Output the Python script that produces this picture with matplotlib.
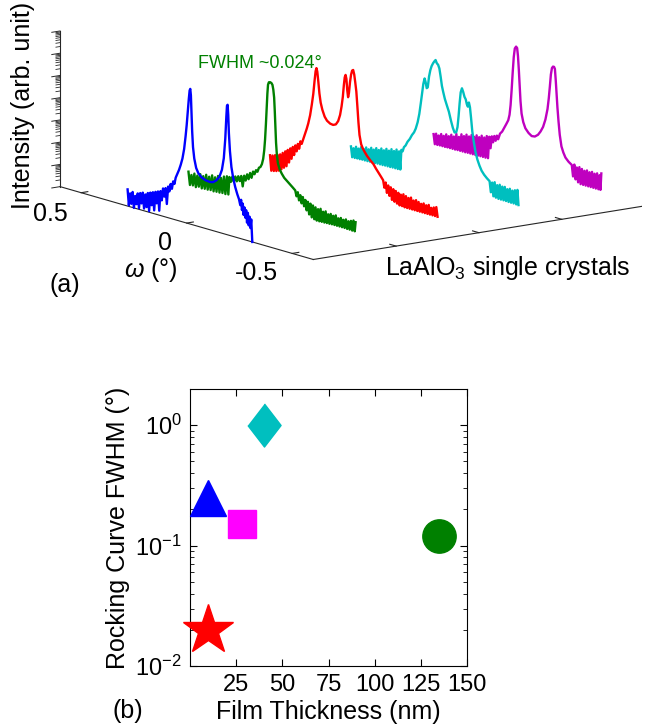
import numpy as np
import matplotlib
matplotlib.use("Agg")
import matplotlib.pyplot as plt
from mpl_toolkits.mplot3d import proj3d

plt.rcParams['font.family'] = ['Liberation Sans', 'DejaVu Sans']
plt.rcParams['mathtext.fontset'] = 'custom'
plt.rcParams['mathtext.rm'] = 'Liberation Sans'
plt.rcParams['mathtext.it'] = 'Liberation Sans:italic'

# (a) rocking curves: (omega in deg, log10 intensity), one list per crystal
blue = [(0.280, 0.75), (0.274, 0.05), (0.268, 0.6), (0.262, 0.15), (0.256, 0.7), (0.250, 0.0),
        (0.244, 0.55), (0.238, 0.2), (0.232, 0.7), (0.226, 0.05), (0.220, 0.75), (0.214, 0.3),
        (0.208, 0.8), (0.202, 0.1), (0.196, 0.75), (0.190, 0.2), (0.184, 0.85), (0.178, 0.05),
        (0.172, 0.9), (0.166, 0.35), (0.160, 0.95), (0.154, 0.15), (0.148, 1.0), (0.142, 0.5),
        (0.136, 1.05), (0.130, 0.2), (0.124, 1.1), (0.118, 0.7), (0.112, 1.25), (0.106, 0.9),
        (0.100, 1.3), (0.094, 0.6), (0.088, 1.4), (0.082, 1.2), (0.076, 1.55), (0.070, 1.35),
        (0.064, 1.7), (0.058, 1.6), (0.052, 1.9), (0.044, 2.1), (0.036, 2.3), (0.028, 2.55),
        (0.020, 2.85), (0.012, 3.3), (0.005, 3.9), (0.0, 4.4), (-0.005, 5.0), (-0.010, 5.6),
        (-0.014, 6.0), (-0.017, 6.08), (-0.020, 5.8), (-0.023, 5.0), (-0.026, 4.2), (-0.030, 3.5),
        (-0.036, 3.0), (-0.045, 2.6), (-0.055, 2.4), (-0.07, 2.25), (-0.09, 2.17), (-0.11, 2.15),
        (-0.125, 2.18), (-0.14, 2.3), (-0.155, 2.5), (-0.167, 2.85), (-0.176, 3.4), (-0.183, 4.3),
        (-0.188, 5.3), (-0.191, 5.8), (-0.194, 5.85), (-0.197, 5.4), (-0.200, 4.6), (-0.205, 3.8),
        (-0.212, 3.1), (-0.22, 2.65), (-0.23, 2.25), (-0.24, 1.95), (-0.248, 1.75), (-0.254, 1.5),
        (-0.258, 1.75), (-0.262, 1.3), (-0.266, 1.6), (-0.270, 1.1), (-0.274, 1.45), (-0.278, 1.0),
        (-0.282, 1.35), (-0.286, 0.8), (-0.290, 1.25), (-0.294, 0.7), (-0.298, 1.1), (-0.302, 0.6),
        (-0.306, 1.0), (-0.309, 0.4), (-0.311, 0.0)]

green = [(0.384, 0.66), (0.377, 0.08), (0.370, 0.55), (0.363, 0.1), (0.356, 0.65), (0.349, 0.06),
         (0.342, 0.6), (0.335, 0.12), (0.328, 0.7), (0.321, 0.08), (0.314, 0.65), (0.307, 0.1),
         (0.300, 0.75), (0.293, 0.1), (0.286, 0.7), (0.279, 0.12), (0.272, 0.8), (0.265, 0.1),
         (0.258, 0.75), (0.251, 0.12), (0.244, 0.85), (0.237, 0.12), (0.230, 0.8), (0.223, 0.14),
         (0.216, 0.9), (0.209, 0.13), (0.202, 0.95), (0.195, 0.15), (0.190, 0.95), (0.183, 0.75),
         (0.176, 1.0), (0.169, 0.8), (0.162, 1.05), (0.155, 0.85), (0.148, 1.1), (0.141, 0.9),
         (0.134, 1.15), (0.127, 0.7), (0.120, 1.2), (0.113, 1.0), (0.106, 1.3), (0.099, 1.1),
         (0.092, 1.4), (0.085, 1.2), (0.078, 1.5), (0.071, 1.4), (0.064, 1.6), (0.057, 1.55),
         (0.050, 1.75), (0.043, 1.8), (0.036, 1.95), (0.030, 2.2), (0.025, 2.6), (0.021, 3.1),
         (0.017, 3.8), (0.013, 4.6), (0.010, 5.2), (0.007, 5.6), (0.003, 5.72), (-0.003, 5.74),
         (-0.009, 5.72), (-0.014, 5.65), (-0.018, 5.45), (-0.022, 5.1), (-0.025, 4.5), (-0.028, 3.8),
         (-0.031, 3.1), (-0.035, 2.55), (-0.04, 2.2), (-0.048, 1.95), (-0.058, 1.78), (-0.07, 1.62),
         (-0.085, 1.5), (-0.1, 1.38), (-0.11, 1.3), (-0.122, 1.2), (-0.128, 0.95), (-0.134, 1.15),
         (-0.140, 0.8), (-0.146, 1.05), (-0.152, 0.7), (-0.158, 1.0), (-0.164, 0.6), (-0.170, 0.9),
         (-0.176, 0.45), (-0.182, 0.85), (-0.188, 0.3), (-0.194, 0.8), (-0.200, 0.2), (-0.206, 0.75),
         (-0.212, 0.15), (-0.218, 0.7), (-0.224, 0.12), (-0.230, 0.65), (-0.236, 0.12), (-0.242, 0.7),
         (-0.248, 0.13), (-0.254, 0.6), (-0.260, 0.13), (-0.266, 0.65), (-0.272, 0.14), (-0.278, 0.55),
         (-0.284, 0.14), (-0.290, 0.6), (-0.296, 0.15), (-0.302, 0.55), (-0.308, 0.15), (-0.314, 0.6),
         (-0.320, 0.15), (-0.326, 0.5), (-0.332, 0.15), (-0.338, 0.55), (-0.344, 0.15), (-0.350, 0.5),
         (-0.356, 0.15), (-0.362, 0.55), (-0.368, 0.14), (-0.374, 0.5), (-0.380, 0.14), (-0.386, 0.55),
         (-0.392, 0.13), (-0.398, 0.6), (-0.404, 0.13), (-0.408, 0.55)]

red = [(0.390, 0.78), (0.384, 0.1), (0.378, 0.8), (0.372, 0.12), (0.366, 0.85), (0.360, 0.15),
       (0.354, 0.9), (0.348, 0.2), (0.342, 0.95), (0.336, 0.3), (0.330, 1.05), (0.324, 0.4),
       (0.318, 1.15), (0.312, 0.5), (0.306, 1.25), (0.300, 0.7), (0.294, 1.35), (0.288, 0.9),
       (0.282, 1.45), (0.276, 1.1), (0.270, 1.55), (0.264, 1.3), (0.258, 1.65), (0.252, 1.45),
       (0.246, 1.8), (0.240, 1.7), (0.232, 1.95), (0.224, 2.2), (0.216, 2.45), (0.209, 2.7),
       (0.200, 3.1), (0.192, 3.6), (0.185, 4.1), (0.179, 4.7), (0.174, 5.15), (0.170, 5.3),
       (0.166, 5.15), (0.161, 4.7), (0.156, 4.2), (0.150, 3.8), (0.142, 3.5), (0.131, 3.22),
       (0.12, 3.07), (0.105, 2.98), (0.091, 2.96), (0.078, 3.02), (0.067, 3.2), (0.058, 3.5),
       (0.051, 3.9), (0.045, 4.35), (0.04, 4.9), (0.036, 5.25), (0.032, 5.37), (0.028, 5.2),
       (0.024, 4.7), (0.020, 4.4), (0.016, 4.6), (0.011, 5.1), (0.006, 5.45), (0.001, 5.65),
       (-0.004, 5.69), (-0.009, 5.5), (-0.014, 5.15), (-0.019, 4.76), (-0.024, 4.1), (-0.029, 3.4),
       (-0.034, 2.85), (-0.042, 2.45), (-0.05, 2.28), (-0.058, 2.16), (-0.07, 2.0), (-0.085, 1.85),
       (-0.1, 1.72), (-0.112, 1.55), (-0.124, 1.4), (-0.136, 1.25), (-0.146, 1.12), (-0.152, 0.8),
       (-0.158, 1.05), (-0.164, 0.6), (-0.170, 0.95), (-0.176, 0.5), (-0.182, 0.9), (-0.188, 0.35),
       (-0.194, 0.85), (-0.200, 0.3), (-0.206, 0.8), (-0.212, 0.25), (-0.218, 0.75), (-0.224, 0.2),
       (-0.230, 0.7), (-0.236, 0.2), (-0.242, 0.75), (-0.248, 0.18), (-0.254, 0.7), (-0.260, 0.18),
       (-0.266, 0.65), (-0.272, 0.18), (-0.278, 0.7), (-0.284, 0.18), (-0.290, 0.6), (-0.296, 0.18),
       (-0.302, 0.65), (-0.308, 0.18), (-0.314, 0.6), (-0.320, 0.18), (-0.326, 0.55), (-0.332, 0.18),
       (-0.338, 0.6), (-0.344, 0.18), (-0.350, 0.55), (-0.356, 0.18), (-0.362, 0.6), (-0.368, 0.18),
       (-0.374, 0.5), (-0.380, 0.18), (-0.386, 0.55), (-0.392, 0.18), (-0.398, 0.6), (-0.404, 0.18)]

cyan = [(0.399, 0.55), (0.393, 0.08), (0.387, 0.5), (0.381, 0.08), (0.375, 0.6), (0.369, 0.09),
        (0.363, 0.55), (0.357, 0.09), (0.351, 0.65), (0.345, 0.1), (0.339, 0.6), (0.333, 0.1),
        (0.327, 0.7), (0.321, 0.1), (0.315, 0.65), (0.309, 0.11), (0.303, 0.75), (0.297, 0.11),
        (0.291, 0.7), (0.285, 0.11), (0.279, 0.8), (0.273, 0.12), (0.267, 0.75), (0.261, 0.12),
        (0.255, 0.85), (0.249, 0.12), (0.243, 0.8), (0.237, 0.13), (0.231, 0.9), (0.225, 0.13),
        (0.219, 0.85), (0.213, 0.13), (0.207, 0.95), (0.201, 0.14), (0.195, 0.9), (0.189, 0.14),
        (0.183, 1.0), (0.177, 0.14), (0.171, 0.95), (0.165, 0.15), (0.160, 1.05), (0.154, 1.0),
        (0.148, 1.2), (0.140, 1.3), (0.131, 1.49), (0.12, 1.65), (0.11, 1.85), (0.1, 2.0),
        (0.092, 2.19), (0.083, 2.5), (0.075, 2.9), (0.068, 3.4), (0.062, 3.85), (0.056, 4.3),
        (0.05, 4.56), (0.045, 4.4), (0.04, 4.15), (0.035, 4.2), (0.029, 4.7), (0.023, 5.0),
        (0.017, 5.2), (0.01, 5.35), (0.004, 5.45), (-0.002, 5.53), (-0.008, 5.4), (-0.014, 5.35),
        (-0.02, 5.2), (-0.026, 4.85), (-0.032, 4.45), (-0.038, 4.2), (-0.046, 3.9), (-0.055, 3.65),
        (-0.065, 3.38), (-0.075, 3.0), (-0.084, 2.7), (-0.092, 2.52), (-0.1, 2.55), (-0.106, 2.8),
        (-0.111, 3.3), (-0.116, 3.9), (-0.121, 4.4), (-0.127, 4.6), (-0.133, 4.45), (-0.139, 4.25),
        (-0.145, 4.15), (-0.15, 3.95), (-0.155, 3.85), (-0.16, 4.05), (-0.165, 3.85), (-0.17, 3.4),
        (-0.176, 2.8), (-0.183, 2.35), (-0.191, 1.92), (-0.2, 1.6), (-0.21, 1.35), (-0.22, 1.15),
        (-0.232, 1.0), (-0.245, 0.88), (-0.258, 0.78), (-0.264, 0.3), (-0.270, 0.75), (-0.276, 0.15),
        (-0.282, 0.8), (-0.288, 0.12), (-0.294, 0.7), (-0.300, 0.1), (-0.306, 0.75), (-0.312, 0.1),
        (-0.318, 0.7), (-0.324, 0.1), (-0.330, 0.72), (-0.336, 0.1), (-0.342, 0.65), (-0.348, 0.09),
        (-0.354, 0.7), (-0.360, 0.09), (-0.366, 0.65), (-0.372, 0.09), (-0.378, 0.7), (-0.384, 0.08),
        (-0.390, 0.75), (-0.395, 0.08)]

magenta = [(0.400, 0.5), (0.394, 0.06), (0.388, 0.55), (0.382, 0.06), (0.376, 0.5), (0.370, 0.07),
           (0.364, 0.6), (0.358, 0.07), (0.352, 0.55), (0.346, 0.07), (0.340, 0.65), (0.334, 0.08),
           (0.328, 0.6), (0.322, 0.08), (0.316, 0.7), (0.310, 0.08), (0.304, 0.65), (0.298, 0.08),
           (0.292, 0.8), (0.286, 0.09), (0.280, 0.7), (0.274, 0.09), (0.268, 0.85), (0.262, 0.09),
           (0.256, 0.8), (0.250, 0.09), (0.244, 0.9), (0.238, 0.1), (0.232, 0.85), (0.226, 0.1),
           (0.220, 0.95), (0.214, 0.1), (0.208, 0.9), (0.202, 0.1), (0.196, 1.0), (0.190, 0.1),
           (0.184, 0.95), (0.178, 0.11), (0.172, 1.05), (0.166, 0.11), (0.160, 1.0), (0.154, 0.11),
           (0.148, 1.1), (0.142, 0.12), (0.136, 1.1), (0.130, 0.6), (0.124, 1.15), (0.118, 0.9),
           (0.112, 1.2), (0.106, 1.0), (0.100, 1.25), (0.094, 1.1), (0.085, 1.38), (0.075, 1.5),
           (0.065, 1.7), (0.055, 1.9), (0.046, 2.09), (0.04, 2.35), (0.035, 2.8), (0.03, 3.5),
           (0.025, 4.3), (0.02, 5.0), (0.015, 5.4), (0.009, 5.5), (0.004, 5.45), (0.0, 5.1),
           (-0.004, 4.5), (-0.008, 3.8), (-0.012, 3.1), (-0.017, 2.56), (-0.025, 2.2), (-0.035, 1.95),
           (-0.05, 1.78), (-0.065, 1.68), (-0.08, 1.7), (-0.095, 1.82), (-0.107, 2.0), (-0.119, 2.24),
           (-0.13, 2.6), (-0.14, 3.1), (-0.146, 3.6), (-0.151, 4.13), (-0.156, 4.7), (-0.161, 5.0),
           (-0.166, 5.08), (-0.171, 5.08), (-0.175, 5.0), (-0.179, 4.5), (-0.183, 3.9), (-0.187, 3.3),
           (-0.192, 2.7), (-0.198, 2.1), (-0.206, 1.6), (-0.215, 1.35), (-0.225, 1.15), (-0.24, 1.0),
           (-0.255, 0.9), (-0.261, 0.4), (-0.267, 0.95), (-0.273, 0.3), (-0.279, 0.85), (-0.285, 0.2),
           (-0.291, 0.9), (-0.297, 0.15), (-0.303, 0.85), (-0.309, 0.15), (-0.315, 0.8), (-0.321, 0.15),
           (-0.327, 0.85), (-0.333, 0.15), (-0.339, 0.8), (-0.345, 0.15), (-0.351, 0.85), (-0.357, 0.15),
           (-0.363, 0.8), (-0.369, 0.15), (-0.375, 0.85), (-0.381, 0.15), (-0.387, 0.8), (-0.391, 0.15),
           (-0.395, 0.9)]

crystal_pos = [0, 1, 2, 3, 4]
curve_colors = ['#0000ff', '#008000', '#ff0000', '#00bfbf', '#bf00bf']

# (b) FWHM vs film thickness
thickness = [10, 28, 40, 135, 10]
fwhm = [0.25, 0.15, 1.0, 0.12, 0.02]
pt_markers = ['^', 's', [(0, 1), (0.77, 0), (0, -1), (-0.77, 0)], 'o', '*']
pt_colors = ['#0000ff', '#ff00ff', '#00bfbf', '#008000', '#ff0000']
pt_sizes = [26, 19.5, 31, 24, 38]

W, H = 646, 728
fig = plt.figure(figsize=(W / 100, H / 100), dpi=100)


def fpos(x, y):
    return x / W, 1 - y / H


# ---- (a) waterfall in 3d ----
ax = fig.add_axes([0.0, 0.45, 1.0, 0.55], projection='3d', proj_type='ortho',
                  computed_zorder=False)
ax.set_xlim(0, 4)
ax.set_ylim(-0.6, 0.6)
ax.set_zlim(0, 7)
ax.set_box_aspect((413, 421, 159))
ax.view_init(elev=12.46, azim=-126.86)
ax.set_axis_off()
ax.patch.set_visible(False)
fig.canvas.draw()

# place the box so its corners land where the reference has them
corners = np.array([[0, 0.6, 0], [0, -0.6, 0], [4, -0.6, 0], [0, 0.6, 7]])
target = np.array([[60, 188], [313, 260], [645, 203], [60, 32]], dtype=float)
xs, ys, _ = proj3d.proj_transform(corners[:, 0], corners[:, 1], corners[:, 2], ax.get_proj())
disp = ax.transData.transform(np.column_stack([xs, ys]))
bb = ax.get_position().transformed(fig.transFigure)
f = (disp - [bb.x0, bb.y0]) / bb.width
A, b = [], []
for (u, v), (tx, ty) in zip(f, target):
    A.append([1, 0, u]); b.append(tx)
    A.append([0, 1, v]); b.append(H - ty)
L, B, S = np.linalg.lstsq(np.array(A), np.array(b), rcond=None)[0]
ax.set_position([L / W, B / H, S / W, S / H])

axc = '0.15'
ax.plot([0, 0], [0.6, 0.6], [0, 7], color=axc, lw=0.8, zorder=1)
ax.plot([0, 0], [0.6, -0.6], [0, 0], color=axc, lw=0.8, zorder=1)
ax.plot([0, 4], [-0.6, -0.6], [0, 0], color=axc, lw=0.8, zorder=1)
for d in range(8):
    ax.plot([0, -0.1], [0.6, 0.6], [d, d], color=axc, lw=0.7, zorder=1)
    if d < 7:
        for k in range(2, 10):
            zz = d + np.log10(k)
            ax.plot([0, -0.05], [0.6, 0.6], [zz, zz], color=axc, lw=0.6, zorder=1)
for w in [0.5, 0, -0.5]:
    ax.plot([0, 0.08], [w, w], [0, 0], color=axc, lw=0.8, zorder=1)
for s in [1, 2, 3]:
    ax.plot([s, s], [-0.6, -0.57], [0, 0], color=axc, lw=0.8, zorder=1)

for i, (s, data, c) in enumerate(zip(crystal_pos, [blue, green, red, cyan, magenta], curve_colors)):
    w, z = np.array(data).T
    ax.plot(np.full(len(w), s), w, z, color=c, lw=1.7, zorder=10 - i)

fig.text(*fpos(23, 105), 'Intensity (arb. unit)', rotation=90, ha='center', va='center', fontsize=18)
fig.text(*fpos(50, 214), '0.5', ha='center', va='center', fontsize=18)
fig.text(*fpos(165, 243), '0', ha='center', va='center', fontsize=18)
fig.text(*fpos(256, 273), '-0.5', ha='center', va='center', fontsize=18)
fig.text(*fpos(151, 270), r'$\omega$ (°)', ha='center', va='center', fontsize=18)
fig.text(*fpos(65, 285), '(a)', ha='center', va='center', fontsize=18)
fig.text(*fpos(385, 275), r'LaAlO$_{\mathrm{3}}$ single crystals', ha='left', va='baseline', fontsize=18)
fig.text(*fpos(198, 68), 'FWHM ~0.024°', ha='left', va='baseline', fontsize=13, color='#008000')

# ---- (b) ----
bx = fig.add_axes([190 / W, 1 - 666 / H, 277 / W, 277 / H])
for t, fw, m, c, ms in zip(thickness, fwhm, pt_markers, pt_colors, pt_sizes):
    bx.plot(t, fw, ls='none', marker=m, color=c, ms=ms, mec=c, clip_on=False, zorder=3)
bx.set_yscale('log')
bx.set_xlim(0, 150)
bx.set_ylim(0.01, 2)
bx.set_xticks([25, 50, 75, 100, 125, 150])
bx.tick_params(which='major', direction='in', top=True, right=True, labelsize=17, length=5, pad=6)
bx.tick_params(which='minor', direction='in', top=True, right=True, length=3)
bx.minorticks_off()
bx.yaxis.set_minor_locator(matplotlib.ticker.LogLocator(base=10, subs=np.arange(2, 10)))
bx.yaxis.set_minor_formatter(matplotlib.ticker.NullFormatter())
bx.set_xlabel('Film Thickness (nm)', fontsize=18, labelpad=3)
bx.set_ylabel('Rocking Curve FWHM (°)', fontsize=18, labelpad=4)
fig.text(*fpos(128, 711), '(b)', ha='center', va='center', fontsize=18)

fig.savefig('out.png', dpi=100)
